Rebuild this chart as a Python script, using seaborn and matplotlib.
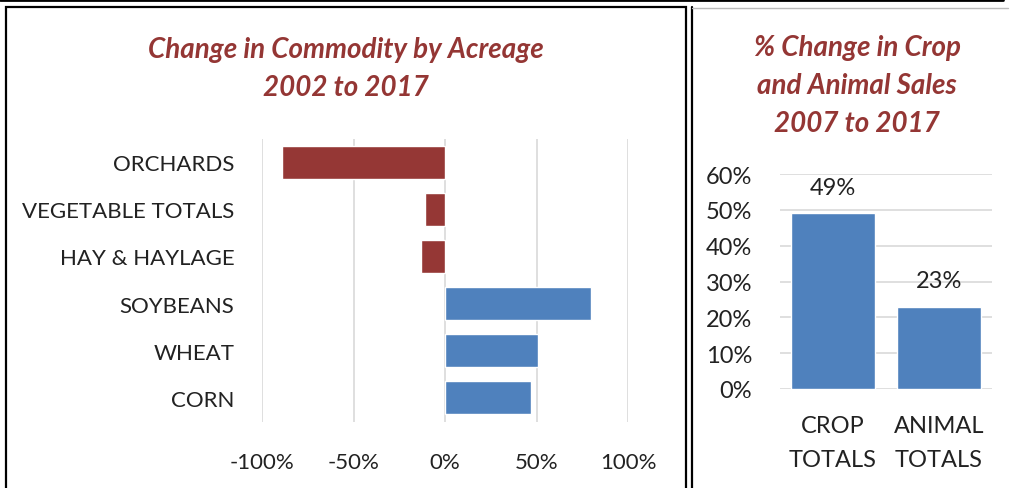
import seaborn as sns
import pandas as pd
import matplotlib.pyplot as plt
from matplotlib.patches import Rectangle
from matplotlib.lines import Line2D

# data
commodities = ["ORCHARDS", "VEGETABLE TOTALS", "HAY & HAYLAGE", "SOYBEANS", "WHEAT", "CORN"]
acreage_change = [-89, -11, -13, 80, 51, 47]

sales_groups = ["CROP\nTOTALS", "ANIMAL\nTOTALS"]
sales_change = [49, 23]

red = "#953735"
blue = "#4F81BD"
title_color = "#943634"
grid_color = "#D9D9D9"

sns.set_style("white")
plt.rcParams["font.family"] = ["Lato", "DejaVu Sans"]

W, H = 1010, 489
fig = plt.figure(figsize=(W / 100, H / 100), dpi=100)


def px_axes(left, top, right, bottom):
    return fig.add_axes([left / W, 1 - bottom / H, (right - left) / W, (bottom - top) / H])


# panel frames
fig.add_artist(Line2D([0, 1003 / W], [1 - 1 / H, 1 - 1 / H], color="black", lw=2))
fig.add_artist(Rectangle((6 / W, -0.05), (686 - 6) / W, 1.05 - 8 / H, fill=False,
                         edgecolor="black", lw=1.6, transform=fig.transFigure))
fig.add_artist(Line2D([692 / W, 692 / W], [0, 1 - 8 / H], color="black", lw=1.6))
fig.add_artist(Line2D([692 / W, 1008 / W], [1 - 9 / H, 1 - 9 / H], color="#BBBBBB", lw=1))

# left chart: change in acreage
df_acre = pd.DataFrame({"commodity": commodities, "change": acreage_change})
colors = [red if v < 0 else blue for v in acreage_change]
ax1 = px_axes(262, 139.5, 628, 422.5)
sns.barplot(data=df_acre, x="change", y="commodity", hue="commodity", palette=colors,
            legend=False, width=0.7, saturation=1, orient="h", ax=ax1, zorder=3)
ax1.set_xlim(-100, 100)
ax1.set_xticks([-100, -50, 0, 50, 100])
ax1.set_xticklabels([f"{t}%" for t in [-100, -50, 0, 50, 100]])
ax1.grid(axis="x", color=grid_color, lw=1.2, zorder=0)
ax1.set_xlabel("")
ax1.set_ylabel("")
ax1.tick_params(axis="both", length=0, labelsize=16, colors="#222222")
ax1.tick_params(axis="x", pad=22)
ax1.tick_params(axis="y", pad=20)
sns.despine(ax=ax1, left=True, bottom=True)
fig.text(346 / W, 1 - 50 / H, "Change in Commodity by Acreage", ha="center", va="center",
         fontsize=20, fontweight="bold", style="italic", color=title_color)
fig.text(346 / W, 1 - 88 / H, "2002 to 2017", ha="center", va="center",
         fontsize=20, fontweight="bold", style="italic", color=title_color)

# right chart: change in sales
df_sales = pd.DataFrame({"group": sales_groups, "change": sales_change})
ax2 = px_axes(780, 175, 992, 390)
sns.barplot(data=df_sales, x="group", y="change", color=blue, width=0.79, saturation=1,
            ax=ax2, zorder=3)
ax2.set_ylim(0, 60)
ax2.set_yticks(range(0, 61, 10))
ax2.set_yticklabels([f"{t}%" for t in range(0, 61, 10)])
ax2.grid(axis="y", color=grid_color, lw=1.2, zorder=0)
ax2.set_xlabel("")
ax2.set_ylabel("")
ax2.tick_params(axis="both", length=0, labelsize=17, colors="#222222")
ax2.tick_params(axis="x", pad=19)
ax2.tick_params(axis="y", pad=20)
for lbl in ax2.get_xticklabels():
    lbl.set_linespacing(1.75)
sns.despine(ax=ax2, left=True, bottom=True)
for i, v in enumerate(sales_change):
    ax2.annotate(f"{v}%", (i, v), xytext=(0, 19), textcoords="offset points",
                 ha="center", va="center", fontsize=17, color="#222222")
for i, line in enumerate(["% Change in Crop", "and Animal Sales", "2007 to 2017"]):
    fig.text(857 / W, 1 - (48 + 38 * i) / H, line, ha="center", va="center",
             fontsize=20, fontweight="bold", style="italic", color=title_color)

fig.savefig("out.png", dpi=100)
